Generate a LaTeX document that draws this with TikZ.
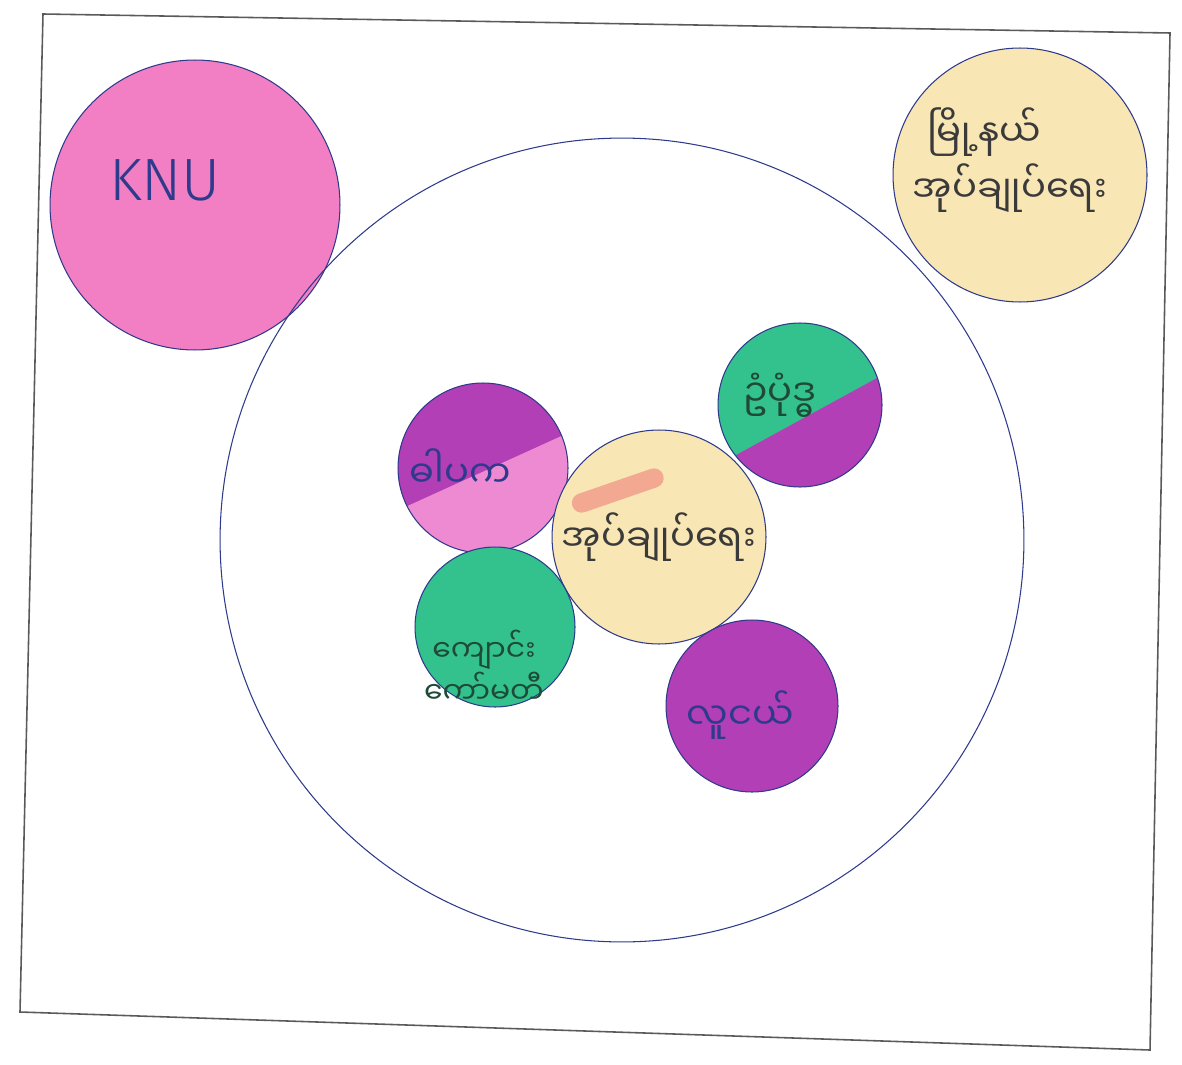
\documentclass[tikz,border=0pt]{standalone}
\usepackage{fontspec}
\setmainfont{Fira Sans Light}
\newfontfamily\mya[Script=Myanmar]{Noto Sans Myanmar UI}
\definecolor{pen}{HTML}{2E3A8C}
\definecolor{knupink}{HTML}{F27FC3}
\definecolor{cream}{HTML}{F8E6B4}
\definecolor{mint}{HTML}{33C28E}
\definecolor{plum}{HTML}{B23FB5}
\definecolor{rose}{HTML}{EE8AD2}
\definecolor{salmon}{HTML}{F2998A}
\definecolor{frame}{HTML}{5A5A5A}
\definecolor{leaf}{HTML}{1E4A36}
\definecolor{graphite}{HTML}{3A3A3A}

\begin{document}
\begin{tikzpicture}[x=0.02cm,y=-0.02cm,
  blob/.style={circle,draw=pen,line width=0.6pt,inner sep=0pt},
  split/.style n args={4}{blob,fill=#2,path picture={
    \fill[#1] ([yshift=#3]path picture bounding box.west) -- ([yshift=#4]path picture bounding box.east)
      -- (path picture bounding box.north east) -- (path picture bounding box.north west) -- cycle;}},
  mm/.style={font=\mya\fontsize{21}{32}\selectfont,align=center}]
\useasboundingbox (0,0) rectangle (1182,1064);
% sheet edge
\draw[frame, line width=0.9pt] (43,14) -- (1170,33) -- (1150,1050) -- (20,1012) -- cycle;

% outside the village
\node[blob, fill=knupink, minimum size=5.8cm,
  label={[font=\fontsize{34}{40}\selectfont, text=pen, xshift=-0.6cm, yshift=0.5cm]center:KNU}] (knu) at (195,205) {};
\node[blob, fill=cream, minimum size=5.08cm,
  label={[mm, align=left, text=graphite, xshift=-0.2cm, yshift=0.3cm]center:\hspace{0.3cm}မြို့နယ်\\အုပ်ချုပ်ရေး}] (town) at (1020,175) {};

% village
\node[blob, minimum size=16.08cm] (village) at (622,540) {};

\node[split={plum}{rose}{-24pt}{20pt}, minimum size=3.4cm,
  label={[mm, text=pen, xshift=-0.46cm]center:ဓါပက}] (elders) at (483,468) {};
\node[split={mint}{plum}{-34pt}{17pt}, minimum size=3.28cm,
  label={[mm, text=leaf, xshift=-0.4cm, yshift=0.2cm]center:ဥံပုံဒ္ဓ}] (faith) at (800,405) {};
\node[blob, fill=cream, minimum size=4.28cm,
  path picture={\draw[salmon, line width=11pt, line cap=round, opacity=.8]
    ([shift={(-1.55cm,0.68cm)}]path picture bounding box.center) -- ([shift={(-0.1cm,1.18cm)}]path picture bounding box.center);},
  label={[mm, text=graphite]center:အုပ်ချုပ်ရေး}] (admin) at (659,537) {};
\node[blob, fill=mint, minimum size=3.2cm,
  label={[mm, font=\mya\fontsize{17}{24}\selectfont, text=leaf, xshift=-0.22cm, yshift=-0.8cm]center:ကျောင်း\\ကော်မတီ}] (school) at (495,627) {};
\node[blob, fill=plum, minimum size=3.44cm,
  label={[mm, text=pen, xshift=-0.24cm, yshift=-0.18cm]center:လူငယ်}] (youth) at (752,706) {};
\end{tikzpicture}
\end{document}
